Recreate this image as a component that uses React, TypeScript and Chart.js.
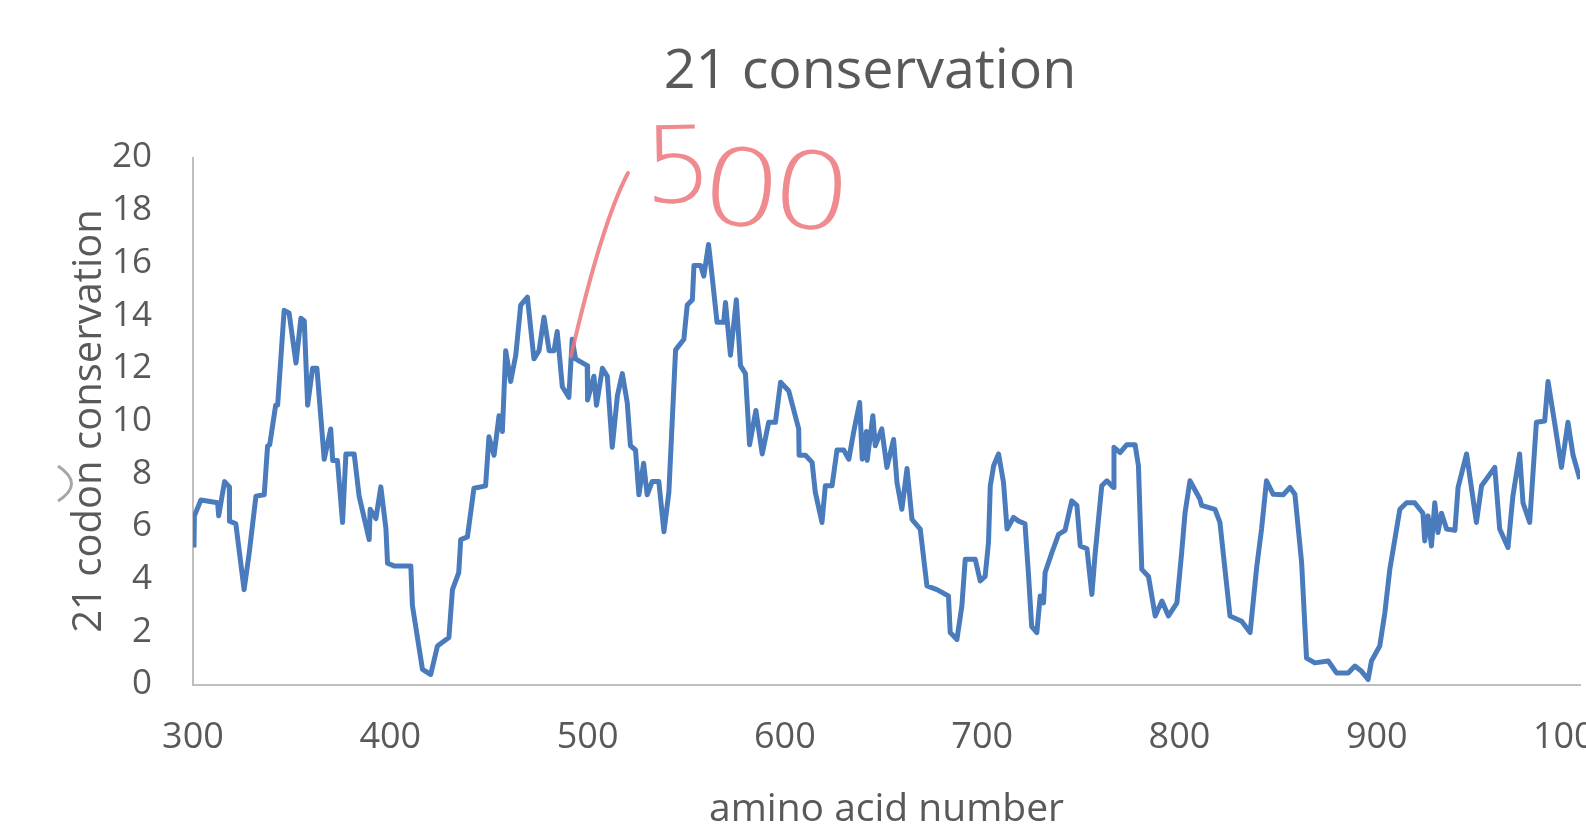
import React, { useEffect, useRef } from "react";
import { Chart, registerables } from "chart.js";

Chart.register(...registerables);

const chartTitle = "21 conservation";
const xAxisTitle = "amino acid number";
const yAxisTitle = "21 codon conservation";
const annotationDigits = ["5", "0", "0"];

const aminoAcid = [
  300.5, 300.7, 304, 312.5, 313, 316, 318.4, 318.5, 321.7, 325.9, 328.5, 331.9, 336.1, 337.8, 338.9, 341.9,
  342.9, 346.2, 348.7, 352.2, 354.7, 356.4, 358.1, 360.6, 362.8, 366.5, 369.8, 370.8, 373.2, 375.8, 377.5,
  381.7, 384.2, 389.3, 389.8, 392.7, 395.2, 397.8, 398.6, 401.9, 410.4, 411.2, 416.3, 420.5, 423.9, 429.7,
  431.5, 434.7, 435.7, 439.1, 442.4, 448.3, 450.0, 452.6, 455.1, 456.8, 458.5, 461.0, 463.6, 466.1, 469.5,
  472.8, 475.4, 477.9, 480.5, 483.0, 484.6, 487.2, 490.5, 492.2, 493.9, 499.8, 500.0, 503.2, 504.5, 507.5,
  510.0, 512.5, 515.1, 517.6, 520.1, 521.7, 524.3, 526.0, 528.4, 530.2, 532.7, 536.1, 538.7, 541.2, 544.6,
  548.8, 550.5, 553.1, 553.9, 557.3, 558.9, 561.3, 563.1, 565.6, 569.0, 569.9, 572.4, 575.4, 577.5, 580.0,
  582.1, 585.3, 588.5, 591.8, 595.2, 597.8, 601.9, 607.0, 607.2, 610.4, 613.8, 615.4, 618.8, 620.5, 623.9,
  626.4, 629.8, 632.4, 634.9, 637.9, 639.2, 641.3, 641.7, 644.6, 645.8, 649.1, 651.7, 655.1, 656.8, 659.3,
  661.9, 664.4, 668.6, 672.0, 677.1, 682.9, 683.8, 687.2, 689.7, 691.4, 696.5, 699.0, 701.5, 703.2, 704.1,
  705.8, 708.3, 710.8, 712.6, 715.9, 718.5, 721.7, 723.4, 725.1, 727.7, 729.4, 731.1, 731.9, 735.3, 738.7,
  742.0, 745.4, 748.0, 749.7, 753.1, 755.6, 757.3, 760.6, 763.2, 766.5, 766.8, 769.9, 773.3, 777.5, 779.2,
  780.9, 784.3, 787.7, 791.1, 794.4, 798.7, 801.1, 802.8, 805.3, 810.4, 811.2, 818.0, 820.5, 825.6, 831.5,
  835.8, 839.1, 841.6, 844.1, 847.5, 852.6, 856.0, 858.5, 861.9, 864.4, 868.6, 875.4, 879.6, 885.5, 888.9,
  892.3, 895.6, 897.3, 901.5, 904.1, 906.6, 911.7, 915.1, 919.2, 923.4, 924.3, 926.0, 927.7, 929.4, 931.0,
  932.8, 935.4, 939.6, 941.2, 945.5, 950.5, 953.1, 955.6, 959.8, 962.3, 966.5, 969.0, 972.4, 974.1, 977.5,
  980.9, 985.1, 986.8, 990.2, 993.6, 996.9, 999.5, 1002.9,
];

const conservation = [
  5.2, 6.4, 7.0, 6.9, 6.4, 7.7, 7.5, 6.2, 6.1, 3.6, 5.0, 7.15, 7.2, 9.05, 9.1, 10.6,
  10.6, 14.2, 14.1, 12.2, 13.9, 13.8, 10.6, 12.0, 12.0, 8.55, 9.7, 8.5, 8.5, 6.15, 8.75,
  8.75, 7.15, 5.5, 6.65, 6.3, 7.5, 5.9, 4.6, 4.5, 4.5, 3.0, 0.57, 0.38, 1.46, 1.78,
  3.6, 4.25, 5.5, 5.6, 7.45, 7.54, 9.4, 8.7, 10.2, 9.6, 12.67, 11.5, 12.5, 14.4, 14.7,
  12.36, 12.67, 13.94, 12.67, 12.67, 13.4, 11.3, 10.9, 13.1, 12.36, 12.1, 10.8, 11.7, 10.6, 12.0,
  11.7, 9.0, 10.96, 11.8, 10.7, 9.06, 8.9, 7.2, 8.4, 7.2, 7.7, 7.7, 5.8, 7.3, 12.7,
  13.1, 14.4, 14.6, 15.9, 15.9, 15.5, 16.7, 15.5, 13.75, 13.75, 14.5, 12.5, 14.6, 12.1, 11.8,
  9.1, 10.4, 8.75, 9.95, 9.95, 11.47, 11.15, 9.7, 8.7, 8.7, 8.43, 7.3, 6.15, 7.54, 7.54,
  8.9, 8.9, 8.55, 9.6, 10.7, 8.55, 9.6, 8.5, 10.2, 9.06, 9.7, 8.24, 9.3, 7.67, 6.65,
  8.2, 6.27, 5.9, 3.74, 3.6, 3.36, 1.97, 1.71, 2.98, 4.75, 4.75, 3.93, 4.1, 5.4, 7.54,
  8.3, 8.75, 7.67, 5.9, 6.34, 6.2, 6.1, 4.25, 2.2, 1.97, 3.36, 3.1, 4.25, 5.0, 5.7,
  5.85, 6.97, 6.8, 5.26, 5.15, 3.42, 5.0, 7.54, 7.73, 7.48, 9.0, 8.8, 9.1, 9.1, 8.3,
  4.37, 4.1, 2.6, 3.17, 2.6, 3.1, 5.0, 6.5, 7.73, 7.03, 6.8, 6.65, 6.15, 2.6, 2.4,
  1.97, 4.43, 5.9, 7.73, 7.22, 7.2, 7.48, 7.22, 4.63, 1.0, 0.82, 0.89, 0.44, 0.44, 0.7,
  0.5, 0.19, 0.89, 1.46, 2.73, 4.37, 6.65, 6.9, 6.9, 6.5, 5.45, 6.4, 5.26, 6.9, 5.77,
  6.5, 5.9, 5.85, 7.48, 8.75, 6.15, 7.54, 7.8, 8.24, 5.9, 5.2, 7.16, 8.75, 6.9, 6.15,
  9.95, 10.0, 11.5, 9.9, 8.24, 9.95, 8.7, 7.8,
];

const xTickValues = [300, 400, 500, 600, 700, 800, 900, 1000];
const xMin = 300;
const xMax = 1003;
const yMin = 0;
const yMax = 20;
const yStep = 2;

const TEXT = "#595959";
const AXIS = "#bfbfbf";
const LINE = "#4a7bbd";
const INK = "rgba(236, 118, 122, 0.85)";

const CANVAS_W = 1740;
const CANVAS_H = 860;

const annotationPlugin = {
  id: "handNotes",
  afterDraw(chart: any) {
    const ctx = chart.ctx;
    ctx.save();
    // red pen stroke
    ctx.strokeStyle = INK;
    ctx.lineWidth = 4;
    ctx.lineCap = "round";
    ctx.beginPath();
    ctx.moveTo(628, 173);
    ctx.quadraticCurveTo(602, 222, 571, 356);
    ctx.stroke();
    // red pen "500", each digit sitting a little lower than the one before
    ctx.fillStyle = INK;
    ctx.font = "200 106px 'DejaVu Sans', 'Open Sans'";
    ctx.textAlign = "center";
    ctx.textBaseline = "alphabetic";
    const spots = [
      [679, 202, 1.05, -0.02],
      [738, 225, 1.2, 0.1],
      [808, 228, 1.2, 0.1],
    ];
    annotationDigits.forEach((d, i) => {
      const [sx, sy, stretch, tilt] = spots[i];
      ctx.save();
      ctx.translate(sx, sy);
      ctx.rotate(tilt);
      ctx.scale(stretch, 1);
      ctx.fillText(d, 0, 0);
      ctx.restore();
    });
    ctx.restore();
    // small grey mark near the axis title
    ctx.save();
    ctx.strokeStyle = "#a6a6a6";
    ctx.lineWidth = 3;
    ctx.beginPath();
    ctx.moveTo(58, 466);
    ctx.quadraticCurveTo(85, 484, 58, 501);
    ctx.stroke();
    ctx.restore();
  },
};

export default function App() {
  const ref = useRef<HTMLCanvasElement | null>(null);

  useEffect(() => {
    if (!ref.current) return;
    const points = aminoAcid.map((x, i) => ({ x, y: conservation[i] }));
    const chart = new Chart(ref.current, {
      type: "line",
      data: {
        datasets: [
          {
            label: yAxisTitle,
            data: points,
            borderColor: LINE,
            borderWidth: 5,
            borderJoinStyle: "round",
            pointRadius: 0,
            tension: 0,
            fill: false,
            yAxisID: "y",
          },
        ],
      },
      options: {
        responsive: false,
        animation: false,
        layout: { padding: 0 },
        plugins: {
          legend: { display: false },
          tooltip: { enabled: false },
          title: {
            display: true,
            text: chartTitle,
            color: TEXT,
            font: { family: "'Open Sans'", size: 55.6, weight: "normal" },
            padding: { top: 38.5, bottom: 52.3 },
          },
        },
        scales: {
          x: {
            type: "linear",
            min: xMin,
            max: xMax,
            afterFit: (s: any) => {
              s.height = CANVAS_H - 684.5;
            },
            afterBuildTicks: (s: any) => {
              s.ticks = xTickValues.map((v) => ({ value: v }));
            },
            ticks: {
              color: TEXT,
              font: { family: "'Open Sans'", size: 36 },
              padding: 32,
              maxRotation: 0,
              autoSkip: false,
              callback: (v: any) => String(v),
            },
            grid: { color: "transparent", drawTicks: false },
            border: { color: AXIS, width: 2 },
            title: {
              display: true,
              text: xAxisTitle,
              color: TEXT,
              font: { family: "'Open Sans'", size: 39 },
              padding: { top: 0, bottom: 26.5 },
            },
          },
          y: {
            min: yMin,
            max: yMax,
            afterFit: (s: any) => {
              s.width = 193;
            },
            ticks: {
              stepSize: yStep,
              color: TEXT,
              font: { family: "'Open Sans'", size: 35 },
              padding: 41,
            },
            grid: { color: "transparent", drawTicks: false },
            border: { color: AXIS, width: 2 },
            title: {
              display: true,
              text: yAxisTitle,
              color: TEXT,
              font: { family: "'Open Sans'", size: 40 },
              padding: { top: 66, bottom: 0 },
            },
          },
          spacer: {
            type: "linear",
            position: "right",
            display: true,
            afterFit: (s: any) => {
              s.width = CANVAS_W - 1580;
            },
            ticks: { display: false },
            grid: { display: false, drawTicks: false },
            border: { display: false },
          },
        },
      },
      plugins: [annotationPlugin],
    });
    return () => chart.destroy();
  }, []);

  return (
    <div
      style={{
        position: "fixed",
        left: 0,
        top: 0,
        width: "100vw",
        height: "100vh",
        overflow: "hidden",
        background: "#ffffff",
      }}
    >
      <canvas ref={ref} width={CANVAS_W} height={CANVAS_H} style={{ display: "block" }} />
    </div>
  );
}
